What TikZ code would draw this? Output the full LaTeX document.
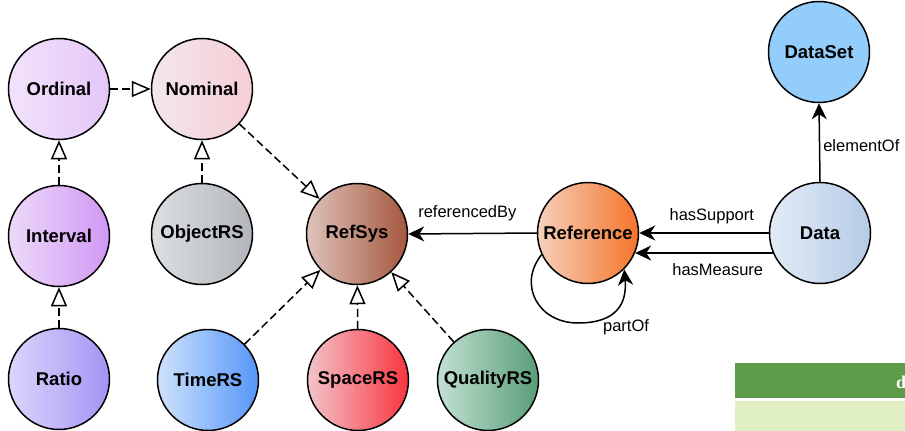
\documentclass[tikz,border=0pt]{standalone}
\usepackage{fontspec}
\setmainfont{Liberation Sans}
\newfontfamily\legendfont{Liberation Serif}
\usetikzlibrary{arrows.meta}

% colour pairs for the shaded classes (light, dark)
\definecolor{ordA}{HTML}{F2E2FB}\definecolor{ordB}{HTML}{E4C6F8}
\definecolor{nomA}{HTML}{F1E7ED}\definecolor{nomB}{HTML}{F6CDD5}
\definecolor{intA}{HTML}{ECDAF9}\definecolor{intB}{HTML}{D197F5}
\definecolor{ratA}{HTML}{DAD6FB}\definecolor{ratB}{HTML}{A593F5}
\definecolor{objA}{HTML}{DCDFE2}\definecolor{objB}{HTML}{B2B5BA}
\definecolor{refsA}{HTML}{DDC3BB}\definecolor{refsB}{HTML}{A5573D}
\definecolor{timA}{HTML}{CFE2FD}\definecolor{timB}{HTML}{5596F8}
\definecolor{spaA}{HTML}{F3C3CA}\definecolor{spaB}{HTML}{F8353F}
\definecolor{quaA}{HTML}{C3E0D2}\definecolor{quaB}{HTML}{589D78}
\definecolor{refA}{HTML}{F6D0BC}\definecolor{refB}{HTML}{F5742A}
\definecolor{datA}{HTML}{E2ECF7}\definecolor{datB}{HTML}{B5CAE5}
\definecolor{dsetC}{HTML}{92CDFB}
\definecolor{legDark}{HTML}{5E9B4B}
\definecolor{legLight}{HTML}{E0EFC4}

\begin{document}
\begin{tikzpicture}[x=1pt,y=-1pt,
  cls/.style={circle, draw=black, line width=1.5pt, minimum size=101pt,
    inner sep=0pt, font=\fontsize{18.5}{20}\selectfont\bfseries},
  shadecls/.style 2 args={cls, left color=#1, right color=#2},
  isa/.style={line width=1.5pt, dash pattern=on 8pt off 4pt,
    -{Triangle[open,length=19pt,width=16pt]}},
  rel/.style={line width=1.5pt, -{Stealth[length=16pt,width=15pt,inset=5pt]}},
  lbl/.style={font=\fontsize{16.5}{18}\selectfont, inner sep=1pt}]

\useasboundingbox (0,0) rectangle (905,431);

% classes
\node[shadecls={ordA}{ordB}]  (Ordinal)   at (59,89)   {Ordinal};
\node[shadecls={nomA}{nomB}]  (Nominal)   at (202,89)  {Nominal};
\node[shadecls={intA}{intB}]  (Interval)  at (59,236)  {Interval};
\node[shadecls={ratA}{ratB}]  (Ratio)     at (59,379)  {Ratio};
\node[shadecls={objA}{objB}]  (ObjectRS)  at (202,234) {ObjectRS};
\node[shadecls={refsA}{refsB}](RefSys)    at (357,234) {RefSys};
\node[shadecls={timA}{timB}]  (TimeRS)    at (208,380) {TimeRS};
\node[shadecls={spaA}{spaB}]  (SpaceRS)   at (358,380) {SpaceRS};
\node[shadecls={quaA}{quaB}]  (QualityRS) at (488,380) {QualityRS};
\node[shadecls={refA}{refB}]  (Reference) at (588,233) {Reference};
\node[shadecls={datA}{datB}]  (Data)      at (820,233) {Data};
\node[cls, fill=dsetC]        (DataSet)   at (819,52)  {DataSet};

% subclass links
\draw[isa] (Ordinal) -- (Nominal);
\draw[isa] (Interval) -- (Ordinal);
\draw[isa] (Ratio) -- (Interval);
\draw[isa] (ObjectRS) -- (Nominal);
\draw[isa] (Nominal) -- (RefSys);
\draw[isa] (TimeRS) -- (RefSys);
\draw[isa] (SpaceRS) -- (RefSys);
\draw[isa] (QualityRS) -- (RefSys);

% properties
\draw[rel] (Reference.west) -- (RefSys.east)
  node[lbl, pos=0.54, yshift=20pt] {referencedBy};
\draw[rel] (Data.west) -- (Reference.east)
  node[lbl, pos=0.44, yshift=17pt] {hasSupport};
\draw[rel] (Data.203) -- (Reference.-23)
  node[lbl, pos=0.4, yshift=-17pt] {hasMeasure};
\draw[rel] (Data.north) -- (DataSet.south)
  node[lbl, pos=0.46, anchor=west, xshift=2pt] {elementOf};

\coordinate (loopbot) at ([shift={(-10,90)}]Reference.center);
\draw[rel] (Reference.205)
  .. controls ([shift={(-24,30)}]Reference.205) and ([shift={(-40,0)}]loopbot) .. (loopbot)
  .. controls ([shift={(38,0)}]loopbot) and ([shift={(3,35)}]Reference.315) .. (Reference.315);
\node[lbl] (partOf) at ([shift={(38,94)}]Reference.center) {partOf};

% legend strip at the lower right edge
\begin{scope}
  \clip (0,0) rectangle (905,431);
  \fill[legDark] (735,363) rectangle (905,398);
  \fill[legLight] (735,401) rectangle (905,431);
  \node[anchor=base west, inner sep=0pt, text=white,
    font=\legendfont\fontsize{18}{18}\selectfont\bfseries] (legTitle) at (896,388) {d};
\end{scope}
\end{tikzpicture}
\end{document}
